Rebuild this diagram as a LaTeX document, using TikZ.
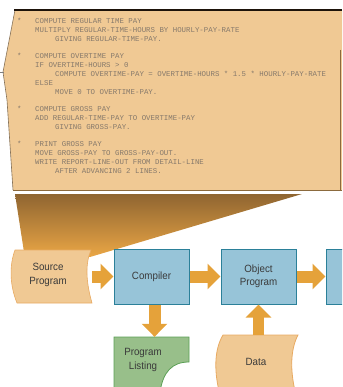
\documentclass[tikz,border=0pt]{standalone}
\usepackage{fontspec}
\usetikzlibrary{arrows.meta}
\newfontfamily\codefont{Liberation Mono}
\newfontfamily\labelfont[FakeStretch=0.93]{Liberation Sans}
\definecolor{paper}{HTML}{F0C994}
\definecolor{paperedge}{HTML}{8B6A3E}
\definecolor{codegray}{HTML}{86796B}
\definecolor{boxblue}{HTML}{97C4D8}
\definecolor{boxedge}{HTML}{2B8099}
\definecolor{arroworange}{HTML}{E5A23A}
\definecolor{listgreen}{HTML}{98BF8A}
\definecolor{listedge}{HTML}{5CA056}
\definecolor{tapeedge}{HTML}{E8AA62}
\definecolor{wedgetop}{HTML}{8F6531}
\definecolor{wedgebot}{HTML}{EAA645}
\definecolor{labelgray}{HTML}{3A3A3A}
\tikzset{
  codeline/.style={anchor=base west, inner sep=0pt, text=codegray,
    font=\codefont\fontsize{7.4}{8.8}\selectfont},
  procbox/.style={draw=boxedge, fill=boxblue, line width=1pt,
    minimum width=75pt, minimum height=55pt, inner sep=0pt},
  ghost/.style={inner sep=0pt},
  boxlabel/.style={inner sep=0pt, align=center, text=labelgray,
    font=\labelfont\fontsize{10.5}{13.5}\selectfont},
  blockarrow/.style={draw=arroworange, line width=12pt,
    -{Triangle[length=13pt,width=25pt,fill=arroworange]}},
}
\begin{document}
\begin{tikzpicture}[x=1pt,y=-1pt]
\useasboundingbox (0,0) rectangle (342,387);
\clip (0,0) rectangle (342,387);
% paper sheet
\fill[paper] (15,10) -- (342,10) -- (342,190) -- (13,190) -- (7,100) -- (3,72) -- cycle;
\draw[paperedge!60!gray, line width=0.6pt] (15,10) -- (3,72) -- (7,100) -- (13,190);
\draw[gray, line width=0.8pt] (0,72) -- (4,72);
\draw[paperedge, line width=1pt] (13,190) -- (342,190);
\draw[paperedge, line width=0.8pt] (340.5,50) -- (340.5,190);
\draw[black!85!brown, line width=1.3pt] (14,10) -- (342,10);
% code lines
\foreach \r/\c/\t [count=\i] in {
  0/17/*, 0/35/COMPUTE REGULAR TIME PAY,
  1/35/MULTIPLY REGULAR-TIME-HOURS BY HOURLY-PAY-RATE,
  2/55/GIVING REGULAR-TIME-PAY.,
  4/17/*, 4/35/COMPUTE OVERTIME PAY,
  5/35/IF OVERTIME-HOURS > 0,
  6/55/COMPUTE OVERTIME-PAY = OVERTIME-HOURS * 1.5 * HOURLY-PAY-RATE,
  7/35/ELSE,
  8/55/MOVE 0 TO OVERTIME-PAY.,
  10/17/*, 10/35/COMPUTE GROSS PAY,
  11/35/ADD REGULAR-TIME-PAY TO OVERTIME-PAY,
  12/55/GIVING GROSS-PAY.,
  14/17/*, 14/35/PRINT GROSS PAY,
  15/35/MOVE GROSS-PAY TO GROSS-PAY-OUT.,
  16/35/WRITE REPORT-LINE-OUT FROM DETAIL-LINE,
  17/55/AFTER ADVANCING 2 LINES.}
  \node[codeline, name=c\i] at (\c,{23.5+8.82*\r}) {\t};
% funnel wedge
\shade[top color=wedgetop, bottom color=wedgebot]
  (15,194) -- (302,194) -- (90,257) -- (24,252) -- cycle;
% source program tape
\path[fill=paper, draw=tapeedge, line width=0.6pt]
  (15,250) -- (91,250) .. controls (85,264) and (86,282) .. (92,303)
  -- (17,303) .. controls (10,286) and (9,266) .. (15,250) -- cycle;
\node[ghost, minimum width=77pt, minimum height=53pt] (src) at (53.5,276.5) {};
\node[boxlabel] (srclabel) at (48,275) {Source\\Program};
% process boxes
\node[procbox, font=\labelfont\fontsize{10.5}{13.5}\selectfont, text=labelgray] (comp) at (151.5,276.5) {Compiler};
\node[procbox, align=center, font=\labelfont\fontsize{10.5}{13.5}\selectfont, text=labelgray] (obj) at (258.5,276.5) {Object\\Program};
\node[procbox] (run) at (363.5,276.5) {};
% program listing
\path[fill=listgreen, draw=listedge, line width=0.8pt]
  (114,337) -- (189,337) -- (189,362) .. controls (172,362) and (163,372) .. (160,392)
  -- (114,392) -- cycle;
\node[ghost, minimum width=75pt, minimum height=50pt] (list) at (151.5,362) {};
\node[boxlabel] (listlabel) at (143,360) {Program\\Listing};
% data tape
\path[fill=paper, draw=tapeedge, line width=0.8pt]
  (223,335) -- (298,335) .. controls (290,350) and (290,372) .. (296,395)
  -- (220,395) .. controls (214,372) and (214,350) .. (223,335) -- cycle;
\node[ghost, boxlabel, minimum width=75pt, minimum height=52pt] (data) at (258.5,361) {};
\node[boxlabel] (datalabel) at (256,362) {Data};
% connectors
\draw[blockarrow] (src.east) -- (comp.west);
\draw[blockarrow] (comp.east) -- (obj.west);
\draw[blockarrow] (obj.east) -- (run.west);
\draw[blockarrow] ([xshift=3pt]comp.south) -- ([xshift=3pt]list.north);
\draw[blockarrow, line width=11pt] (data.north) -- (obj.south);
\end{tikzpicture}
\end{document}
